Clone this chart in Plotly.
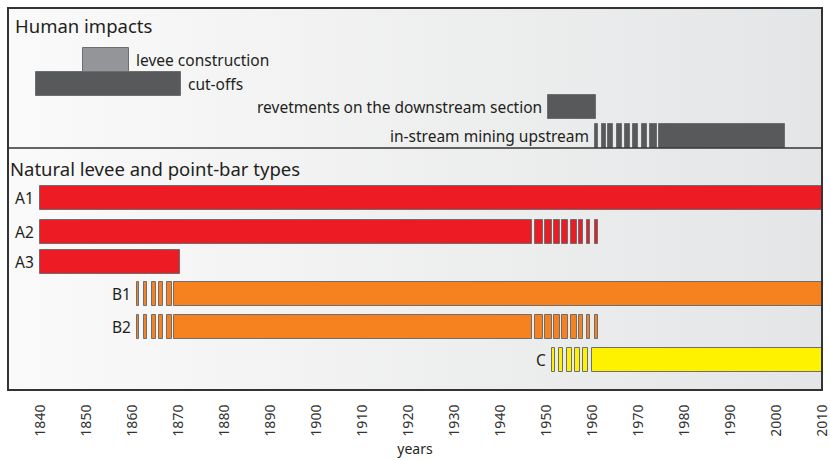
import plotly.graph_objects as go

# ---------------------------------------------------------------------------
# Data: (start year, end year) segments for each row
# ---------------------------------------------------------------------------

levee_construction = [(1849.3, 1859.3)]
cut_offs = [(1839.1, 1870.7)]
revetments = [(1950.4, 1960.9)]
instream_mining = [(1960.7, 1961.3), (1962.2, 1963.0), (1963.5, 1964.6), (1965.4, 1966.5),
                   (1967.2, 1968.3), (1968.9, 1970.0), (1970.9, 1972.0), (1972.6, 1974.1),
                   (1974.6, 2002.0)]

a1 = [(1840.0, 2010.0)]
a2 = [(1840.0, 1947.0), (1947.6, 1949.3), (1949.8, 1951.3), (1951.7, 1953.0), (1953.5, 1954.8),
      (1955.4, 1956.7), (1957.2, 1958.0), (1958.9, 1959.6), (1960.7, 1961.3)]
a3 = [(1840.0, 1870.4)]
b1 = [(1861.1, 1861.5), (1862.6, 1863.3), (1864.3, 1865.2), (1865.9, 1866.7), (1867.6, 1868.7),
      (1869.1, 2010.0)]
b2 = [(1861.1, 1861.5), (1862.6, 1863.3), (1864.3, 1865.2), (1865.9, 1866.7), (1867.6, 1868.7),
      (1869.1, 1947.0), (1947.6, 1949.3), (1949.8, 1951.3), (1951.7, 1953.0), (1953.5, 1954.8),
      (1955.4, 1956.7), (1957.2, 1958.0), (1958.9, 1959.6), (1960.7, 1961.3)]
c = [(1951.3, 1952.0), (1952.8, 1953.7), (1954.6, 1955.7), (1956.3, 1957.4), (1958.0, 1959.1),
     (1960.0, 2010.0)]

row_labels = ["levee construction", "cut-offs", "revetments on the downstream section",
              "in-stream mining upstream", "A1", "A2", "A3", "B1", "B2", "C"]
row_segments = [levee_construction, cut_offs, revetments, instream_mining, a1, a2, a3, b1, b2, c]

panel_titles = ["Human impacts", "Natural levee and point-bar types"]
year_ticks = list(range(1840, 2011, 10))

# ---------------------------------------------------------------------------
# Styling / layout (vertical slots in plot units, 0 at top)
# ---------------------------------------------------------------------------

RED = "#ED1C24"
ORANGE = "#F5821F"
YELLOW = "#FFF200"
DARK = "#58595B"
LIGHT = "#939598"

row_colors = [LIGHT, DARK, DARK, DARK, RED, RED, RED, ORANGE, ORANGE, YELLOW]
row_y = [52, 76, 99, 127.5, 190, 224, 254, 286, 319, 351.5]
# label side: text after the last segment (left-aligned) or before the first (right-aligned)
row_label_side = ["after", "after", "before", "before", "before", "before", "before", "before", "before", "before"]
BAR_H = 24

FONT = "Noto Sans"
TXT = "#231F20"

fig = go.Figure()

for label, segs, color, y in zip(row_labels, row_segments, row_colors, row_y):
    starts = [s for s, e in segs]
    widths = [e - s for s, e in segs]
    fig.add_trace(go.Bar(
        x=widths, base=starts, y=[y] * len(segs), orientation="h", width=BAR_H,
        marker=dict(color=color, line=dict(color="#6D6E71", width=1)),
        name=label, showlegend=False, hoverinfo="skip",
    ))

for label, segs, y, side in zip(row_labels, row_segments, row_y, row_label_side):
    if side == "after":
        fig.add_annotation(x=segs[-1][1], y=y, text=label, xref="x", yref="y",
                           xanchor="left", xshift=5, showarrow=False,
                           font=dict(family=FONT, size=15.5, color=TXT))
    else:
        fig.add_annotation(x=segs[0][0], y=y, text=label, xref="x", yref="y",
                           xanchor="right", xshift=-4, showarrow=False,
                           font=dict(family=FONT, size=15.5, color=TXT))

for title, y, shift in zip(panel_titles, [17, 160], [5, 0]):
    fig.add_annotation(x=0, y=y, text=title, xref="paper", yref="y", xanchor="left", xshift=shift,
                       showarrow=False, font=dict(family=FONT, size=18.5, color=TXT))

# gradient background
grad_svg = (
    "data:image/svg+xml;utf8,<svg xmlns='http://www.w3.org/2000/svg' width='100' height='100' "
    "preserveAspectRatio='none'><defs><linearGradient id='g' x1='0' y1='0' x2='1' y2='0'>"
    "<stop offset='0' stop-color='%23FAFAFA'/><stop offset='1' stop-color='%23E4E5E6'/>"
    "</linearGradient></defs><rect width='100' height='100' fill='url(%23g)'/></svg>"
)
fig.add_layout_image(source=grad_svg, xref="paper", yref="paper", x=0, y=1, sizex=1, sizey=1,
                     sizing="stretch", xanchor="left", yanchor="top", layer="below")

# frame and divider
fig.add_shape(type="rect", xref="paper", yref="paper", x0=0, x1=1, y0=0, y1=1,
              line=dict(color="#333333", width=2))
fig.add_shape(type="line", xref="paper", yref="y", x0=0, x1=1, y0=140, y1=140,
              line=dict(color="#333333", width=1.5))

fig.update_layout(
    width=830, height=460,
    margin=dict(l=8, r=8, t=8, b=70),
    paper_bgcolor="white", plot_bgcolor="rgba(0,0,0,0)",
    barmode="overlay", bargap=0,
    xaxis=dict(range=[1833.04, 2010], tickvals=year_ticks, tickangle=-90, showgrid=False,
               zeroline=False, ticks="outside", ticklen=8, tickcolor="rgba(0,0,0,0)",
               automargin=False, ticklabeloverflow="allow",
               tickfont=dict(family=FONT, size=14, color="#333333"),
               title=dict(text="years", standoff=8, font=dict(family=FONT, size=14, color=TXT))),
    yaxis=dict(range=[382, 0], showticklabels=False, showgrid=False, zeroline=False, automargin=False),
)

fig.write_html("out.html", config={"displayModeBar": False},
               post_script="document.body.style.margin='0';")
